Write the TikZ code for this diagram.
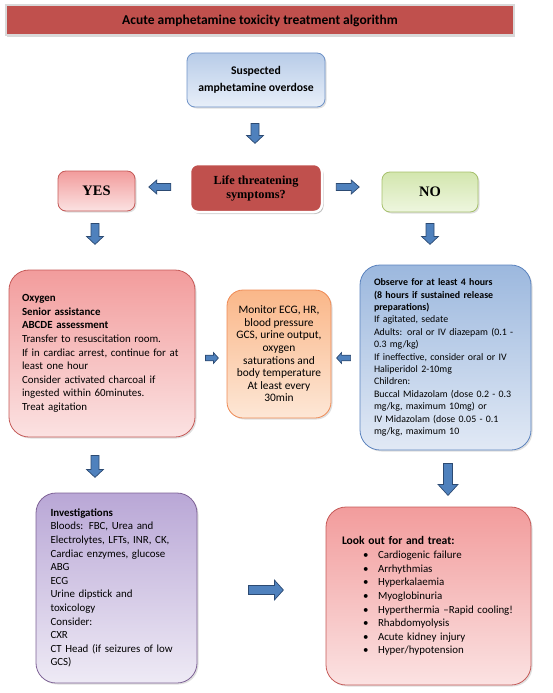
\documentclass[tikz,border=0pt]{standalone}
\usepackage{fontspec}
\setmainfont{Carlito}
\newfontfamily\serifbold{Liberation Serif}
\usetikzlibrary{shadows,calc}
\definecolor{accred}{HTML}{C0504D}
\definecolor{arrowfill}{HTML}{4F81BD}
\definecolor{arrowline}{HTML}{2C4A72}
\definecolor{bluetop}{HTML}{B8CCE8}
\definecolor{bluebot}{HTML}{E8EFF9}
\definecolor{blueline}{HTML}{6F93C8}
\definecolor{pinktop}{HTML}{F29C9C}
\definecolor{pinkbot}{HTML}{FBE2E2}
\definecolor{pinkline}{HTML}{C55A58}
\definecolor{greentop}{HTML}{D3E6AE}
\definecolor{greenbot}{HTML}{EEF6DF}
\definecolor{greenline}{HTML}{A6C06C}
\definecolor{orangetop}{HTML}{FAB789}
\definecolor{orangebot}{HTML}{FDE7D6}
\definecolor{orangeline}{HTML}{EE8A55}
\definecolor{obstop}{HTML}{9CB8DE}
\definecolor{obsbot}{HTML}{E1E9F5}
\definecolor{obsline}{HTML}{5B83BE}
\definecolor{purtop}{HTML}{B9A7D6}
\definecolor{purbot}{HTML}{EEEAF5}
\definecolor{purline}{HTML}{7E6296}
\newcommand\blockarrow[6]{%
  \filldraw[barrow, shift={(#1)}, rotate=#2]
    (0,-#4) -- ({#3-#6},-#4) -- ({#3-#6},-#5) -- (#3,0) -- ({#3-#6},#5) -- ({#3-#6},#4) -- (0,#4) -- cycle;}
\begin{document}
\begin{tikzpicture}[x=1pt,y=-1pt,
  barrow/.style={fill=arrowfill, draw=arrowline, line width=0.7pt, line join=miter},
  boxbase/.style={draw, line width=0.8pt, drop shadow={opacity=0.25, shadow xshift=1.5pt, shadow yshift=-1.5pt}},
  bigbox/.style={boxbase, rounded corners=20pt, inner sep=0pt},
  smallbox/.style={boxbase, rounded corners=8pt, inner sep=0pt},
  bodyfont/.style={font=\fontsize{10.9}{13.6}\selectfont},
]
\useasboundingbox (0,0) rectangle (553,693);

% title
\node[draw=white!85!black, line width=2pt, fill=accred, minimum width=508pt, minimum height=30pt,
      drop shadow={opacity=0.3, shadow xshift=1pt, shadow yshift=-1.5pt},
      font=\fontsize{13.5}{15}\selectfont\bfseries] (title) at (260,20.5) {Acute amphetamine toxicity treatment algorithm};

% suspected
\node[smallbox, draw=blueline, top color=bluetop, bottom color=bluebot, minimum width=138pt, minimum height=54pt,
      align=center, font=\fontsize{11.7}{16.5}\selectfont\bfseries] (sus) at (256,80) {Suspected\\amphetamine overdose};

% life threatening
\node[smallbox, draw=white, line width=2.5pt, fill=accred, minimum width=132pt, minimum height=48pt,
      drop shadow={opacity=0.35, shadow xshift=1.5pt, shadow yshift=-2pt},
      align=center, font=\fontsize{12.3}{14}\selectfont\serifbold\bfseries] (life) at (256,188) {Life threatening\\symptoms?};

% yes / no
\node[smallbox, draw=pinkline, top color=pinktop, bottom color=pinkbot, minimum width=77pt, minimum height=40pt,
      font=\fontsize{14.5}{16}\selectfont\serifbold\bfseries] (yes) at (96.5,191) {YES};
\node[smallbox, draw=greenline, top color=greentop, bottom color=greenbot, minimum width=96pt, minimum height=40pt,
      font=\fontsize{14.5}{16}\selectfont\serifbold\bfseries] (no) at (430,192) {NO};

% left big box
\node[bigbox, draw=pinkline, top color=pinktop, bottom color=pinkbot, minimum width=186pt, minimum height=167pt,
      text width=160pt, align=left, bodyfont] (resus) at (102,353.5)
  {\textbf{Oxygen}\\\textbf{Senior assistance}\\\textbf{ABCDE assessment}\\Transfer to resuscitation room.\\If in cardiac arrest, continue for at\\least one hour\\Consider activated charcoal if\\ingested within 60minutes.\\Treat agitation};

% monitor box
\node[bigbox, rounded corners=16pt, draw=orangeline, top color=orangetop, bottom color=orangebot, minimum width=104pt, minimum height=128pt,
      align=center, font=\fontsize{11.4}{12.6}\selectfont] (mon) at (279,354)
  {Monitor ECG, HR,\\blood pressure\\GCS, urine output,\\oxygen\\saturations and\\body temperature\\At least every\\30min};

% observe box
\node[bigbox, draw=obsline, top color=obstop, bottom color=obsbot, minimum width=171pt, minimum height=185pt,
      text width=143pt, align=left, font=\fontsize{9.9}{12.4}\selectfont] (obs) at (445.5,357.5)
  {\textbf{Observe for at least 4 hours}\\\textbf{(8 hours if sustained release}\\\textbf{preparations)}\\If agitated, sedate\\Adults: oral or IV diazepam (0.1 -\\0.3 mg/kg)\\If ineffective, consider oral or IV\\Haliperidol 2-10mg\\Children:\\Buccal Midazolam (dose 0.2 - 0.3\\mg/kg, maximum 10mg) or\\IV Midazolam (dose 0.05 - 0.1\\mg/kg, maximum 10};

% investigations
\node[bigbox, draw=purline, top color=purtop, bottom color=purbot, minimum width=161pt, minimum height=190pt,
      text width=132pt, align=left, bodyfont] (inv) at (116.5,588)
  {\textbf{Investigations}\\Bloods: FBC, Urea and\\Electrolytes, LFTs, INR, CK,\\Cardiac enzymes, glucose\\ABG\\ECG\\Urine dipstick and\\toxicology\\Consider:\\CXR\\CT Head (if seizures of low\\GCS)};

% look out
\newcommand\bl[1]{\hspace*{21pt}\makebox[15pt][l]{\textbullet}#1}
\node[bigbox, draw=pinkline, top color=pinktop, bottom color=pinkbot, minimum width=205pt, minimum height=178pt,
      text width=173pt, align=left, bodyfont] (look) at (428.5,596)
  {{\fontsize{11.6}{15}\selectfont\bfseries Look out for and treat:}\\[0.5pt]
   \bl{Cardiogenic failure}\\\bl{Arrhythmias}\\\bl{Hyperkalaemia}\\\bl{Myoglobinuria}\\\bl{Hyperthermia –Rapid cooling!}\\\bl{Rhabdomyolysis}\\\bl{Acute kidney injury}\\\bl{Hyper/hypotension}};

% block arrows
\blockarrow{$(sus.south)+(-1,16)$}{-90}{20}{4}{8.5}{8}
\blockarrow{$(life.west)+(-18,-1)$}{180}{22}{3.5}{7}{8}
\blockarrow{$(life.east)+(13,-1)$}{0}{23}{3.5}{7}{8}
\blockarrow{$(yes.south)+(-1.5,12)$}{-90}{21}{4}{8.5}{8}
\blockarrow{$(no.south)+(0,11)$}{-90}{21}{4}{8.5}{8}
\blockarrow{$(resus.east)+(10,4.5)$}{0}{13}{2.8}{5.5}{5}
\blockarrow{$(obs.west)+(-9,0.5)$}{180}{14}{2.8}{5.5}{5}
\blockarrow{$(resus.south)+(-7,18)$}{-90}{22}{4}{8.5}{8}
\blockarrow{$(obs.south)+(2.5,13)$}{-90}{32}{4.5}{10}{11}
\blockarrow{$(inv.east)+(51,2)$}{0}{35}{4.5}{10}{9}
\end{tikzpicture}
\end{document}
